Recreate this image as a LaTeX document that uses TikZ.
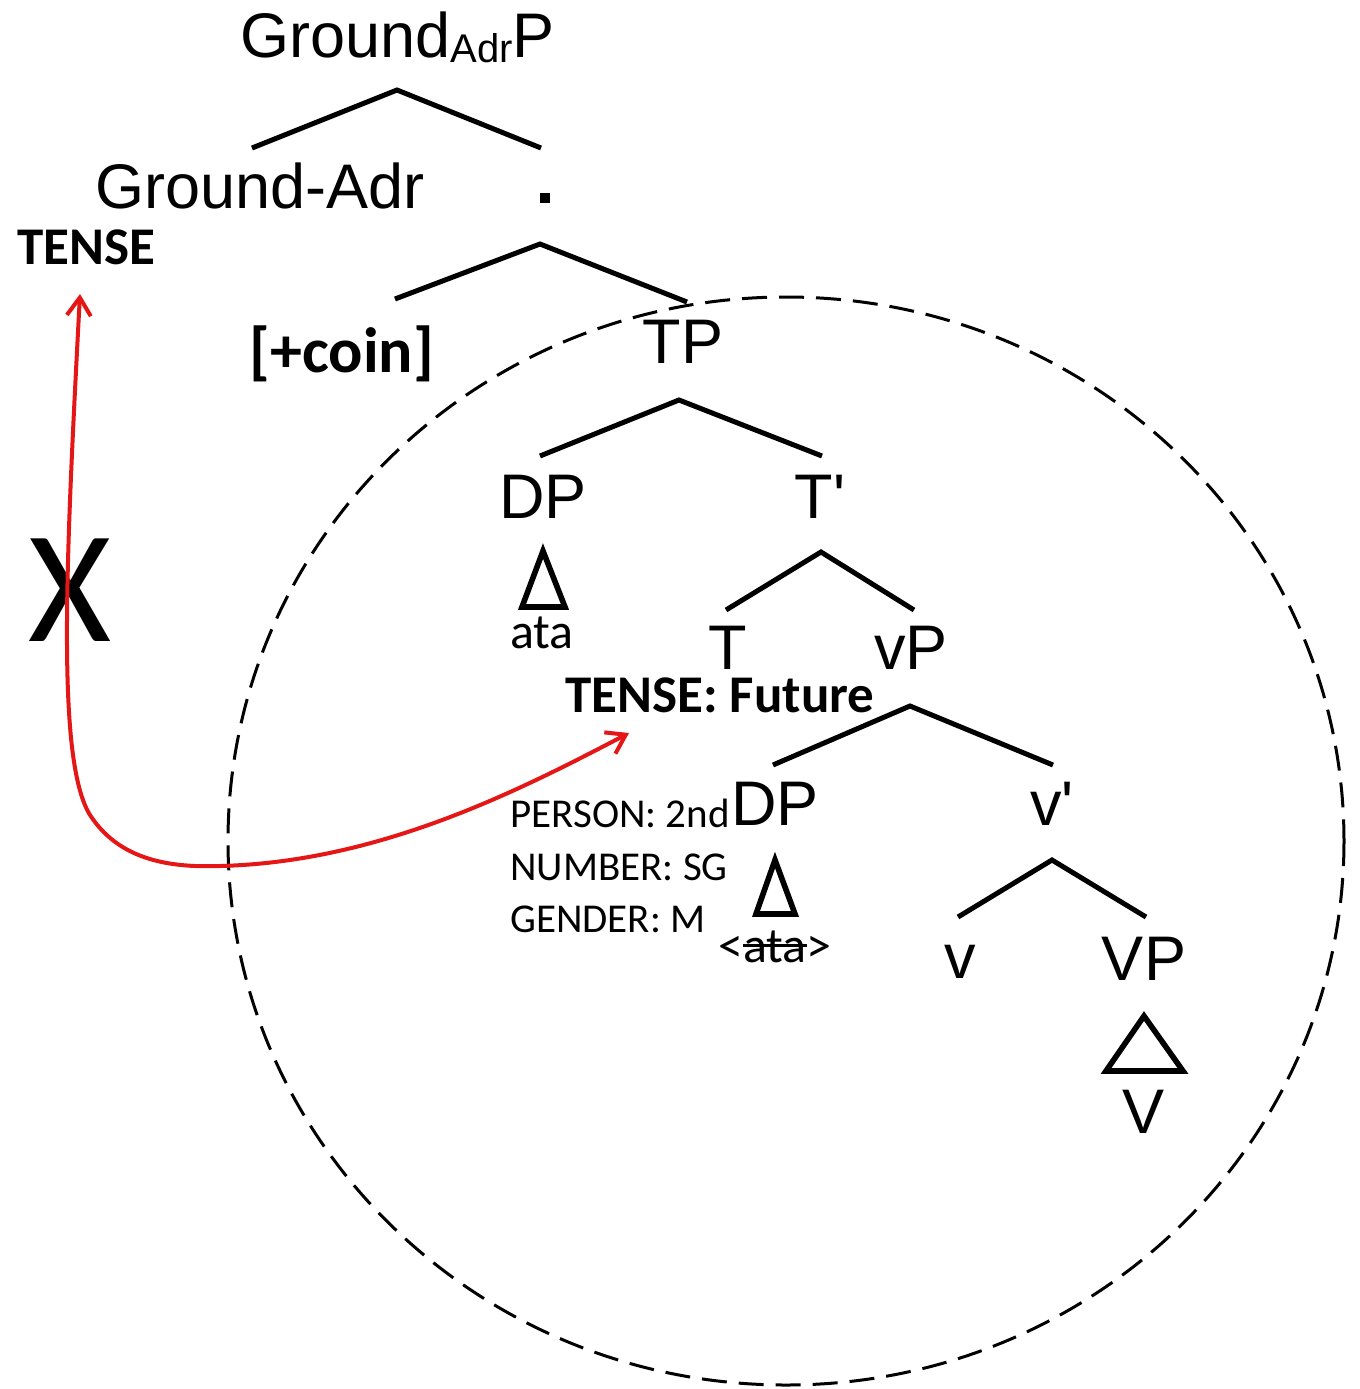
\documentclass[tikz,border=0pt]{standalone}
\usepackage{fontspec}
\setmainfont{Liberation Sans}
\newfontfamily\arialf{Liberation Sans}
\newfontfamily\calf{Carlito}
\usetikzlibrary{arrows.meta}
\definecolor{arrred}{RGB}{228,22,22}
\newcommand\strk[1]{\setbox0\hbox{#1}\rlap{\rule[0.3em]{\wd0}{0.07em}}\box0}
\begin{document}
\begin{tikzpicture}[x=0.5pt,y=-0.5pt,
  lab/.style={inner sep=0pt,font=\arialf\fontsize{31.5}{36}\selectfont},
  feat/.style={inner sep=0pt,font=\calf\bfseries\fontsize{26.5}{30}\selectfont},
  phi/.style={inner sep=0pt,font=\calf\fontsize{20.5}{25}\selectfont},
  word/.style={inner sep=0pt,font=\calf\fontsize{25}{30}\selectfont},
  branch/.style={line width=2.5pt,line cap=butt},
  tri/.style={line width=2.8pt,line join=miter},
  redarrow/.style={draw=arrred,line width=2pt,{Straight Barb[length=9pt,width=12pt,line width=2pt]}-{Straight Barb[length=9pt,width=12pt,line width=2pt]}}
]
\useasboundingbox (0,0) rectangle (1360,1389);
% dashed ellipse
\draw[line width=1.5pt,dash pattern=on 12.5pt off 6pt] (786,841) ellipse [x radius=558,y radius=544];

% labels
\node[lab,anchor=base west] (gap) at (240,57) {Ground\raisebox{-2.5pt}{\fontsize{20}{24}\selectfont Adr}P};
\node[lab,anchor=base west] (ga) at (95,208) {Ground-Adr};
\node[feat,anchor=base west] (tense) at (17,264) {TENSE};
\node[feat,anchor=base west,font=\calf\bfseries\fontsize{32}{36}\selectfont] (coin) at (249,372) {[+coin]};
\node[lab,anchor=base] (tp) at (683,363) {TP};
\node[lab,anchor=base] (dp1) at (543,518) {DP};
\node[lab,anchor=base] (tbar) at (820,518) {T'};
\node[word,anchor=base] (ata1) at (542,648) {ata};
\node[lab,anchor=base] (t) at (728,669) {T};
\node[lab,anchor=base] (vp) at (911,669) {vP};
\node[feat,anchor=base west] (tf) at (565,712) {TENSE: Future};
\node[lab,anchor=base] (dp2) at (775,825) {DP};
\node[lab,anchor=base] (vbar) at (1052,825) {v'};
\node[phi,anchor=base west] (pers) at (510,827) {PERSON: 2nd};
\node[phi,anchor=base west] (num) at (510,880) {NUMBER: SG};
\node[phi,anchor=base west] (gen) at (510,932) {GENDER: M};
\node[word,anchor=base] (ata2) at (775,962) {<\strk{ata}>};
\node[lab,anchor=base] (v) at (960,978) {v};
\node[lab,anchor=base] (bigvp) at (1144,980) {VP};
\node[lab,anchor=base] (bigv) at (1144,1133) {V};

% small square node
\node[fill=black,minimum size=5pt,inner sep=0pt] (dot) at (545,198) {};

% branches
\coordinate (a1) at (397,90);  \coordinate (l1) at (252,148); \coordinate (r1) at (541,148);
\coordinate (a2) at (540,244); \coordinate (l2) at (395,299); \coordinate (r2) at (687,302);
\coordinate (a3) at (679,400); \coordinate (l3) at (540,456); \coordinate (r3) at (822,456);
\coordinate (a4) at (821,552); \coordinate (l4) at (726,610); \coordinate (r4) at (914,610);
\coordinate (a5) at (910,706); \coordinate (l5) at (773,765); \coordinate (r5) at (1053,765);
\coordinate (a6) at (1052,860); \coordinate (l6) at (958,917); \coordinate (r6) at (1146,917);
\draw[branch] (l1) -- (a1) -- (r1);
\draw[branch] (l2) -- (a2) -- (r2);
\draw[branch] (l3) -- (a3) -- (r3);
\draw[branch] (l4) -- (a4) -- (r4);
\draw[branch] (l5) -- (a5) -- (r5);
\draw[branch] (l6) -- (a6) -- (r6);

% triangles
\draw[tri] (543,551) -- (565,607) -- (522,607) -- cycle;
\draw[tri] (775,860) -- (795,914) -- (756,914) -- cycle;
\draw[tri] (1144,1016) -- (1183,1071) -- (1106,1071) -- cycle;

% X (under the red line)
\node[inner sep=0pt,font=\calf\fontsize{80}{84}\selectfont] (x) at (70,590) {X};

% red arrow
\coordinate (rtop) at (80,294);
\coordinate (rend) at (629,733);
\draw[redarrow] (rtop) .. controls (66,560) and (56,760) .. (90,815) .. controls (118,858) and (165,868) .. (220,866) .. controls (380,862) and (520,790) .. (rend);
\end{tikzpicture}
\end{document}
